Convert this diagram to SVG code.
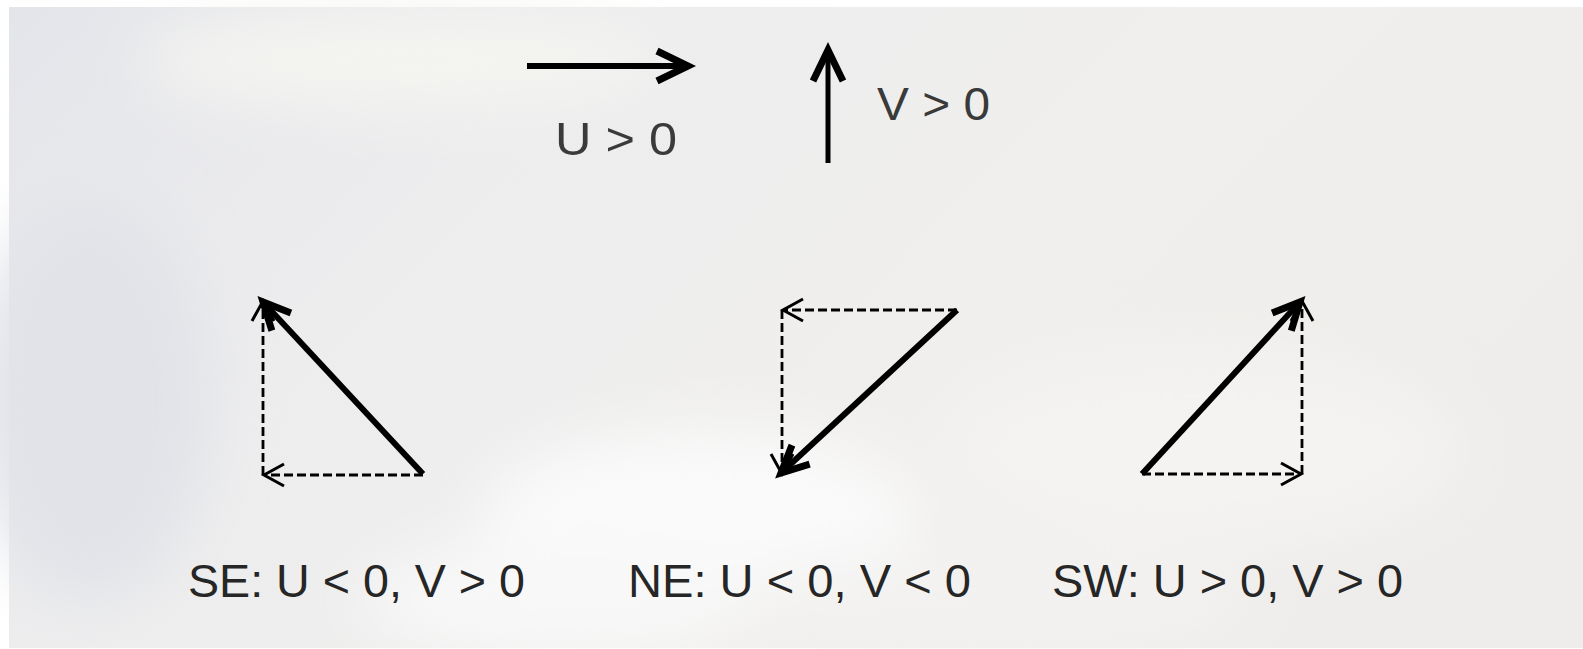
<svg xmlns="http://www.w3.org/2000/svg" width="1583" height="649" viewBox="0 0 1583 649">
<defs>
<linearGradient id="bg" x1="0" y1="0" x2="1" y2="0.4">
<stop offset="0" stop-color="#e4e5ea"/>
<stop offset="0.35" stop-color="#ededee"/>
<stop offset="0.7" stop-color="#f0efed"/>
<stop offset="1" stop-color="#efedeb"/>
</linearGradient>
<filter id="blur" x="-50%" y="-50%" width="200%" height="200%"><feGaussianBlur stdDeviation="30"/></filter>
<marker id="head" markerUnits="userSpaceOnUse" markerWidth="60" markerHeight="60" viewBox="-40 -30 60 60" refX="0" refY="0" orient="auto" overflow="visible">
<path d="M-31,-15 L0,0 L-31,15" fill="none" stroke="#000" stroke-width="7"/>
</marker>
<marker id="headS" markerUnits="userSpaceOnUse" markerWidth="60" markerHeight="60" viewBox="-40 -30 60 60" refX="0" refY="0" orient="auto" overflow="visible">
<path d="M-27,-13 L0,0 L-27,13" fill="none" stroke="#000" stroke-width="7"/>
</marker>
<marker id="dhead" markerUnits="userSpaceOnUse" markerWidth="40" markerHeight="40" viewBox="-30 -20 40 40" refX="0" refY="0" orient="auto" overflow="visible">
<path d="M-20,-11 L0,0 L-20,11" fill="none" stroke="#000" stroke-width="3"/>
</marker>
</defs>
<style>
.solid{fill:none;stroke:#000;stroke-width:6;}
.dash{fill:none;stroke:#000;stroke-width:2.8;stroke-dasharray:9 4;}
.lbl{font-family:"Liberation Sans",Arial,sans-serif;font-size:46px;fill:#3a3a3a;}
.cap{font-family:"Liberation Sans",Arial,sans-serif;font-size:47px;fill:#262626;}
</style>
<rect width="1583" height="649" fill="#ffffff"/>
<g id="background">
<rect x="9" y="7" width="1574" height="641" fill="url(#bg)"/>
<g filter="url(#blur)">
<ellipse cx="700" cy="520" rx="220" ry="90" fill="#fafafa"/>
<ellipse cx="560" cy="600" rx="200" ry="60" fill="#f8f8f8"/>
<ellipse cx="400" cy="60" rx="260" ry="50" fill="#f4f4f1"/>
<ellipse cx="1200" cy="450" rx="260" ry="100" fill="#f4f3f1"/>
<ellipse cx="90" cy="400" rx="120" ry="200" fill="#e1e3e8"/>
<ellipse cx="1000" cy="600" rx="260" ry="50" fill="#f3f2f1"/>
</g>
</g>
<g id="connectors">
<path class="solid" d="M527,66 L688,66" marker-end="url(#head)"/>
<path class="solid" d="M828,163 L828,50" marker-end="url(#head)" style="stroke-width:5"/>
<path class="dash" d="M423,475 L264,475" marker-end="url(#dhead)"/>
<path class="dash" d="M263,475 L263,301" marker-end="url(#dhead)"/>
<path class="solid" d="M423,474 L263,302" marker-end="url(#headS)"/>
<path class="dash" d="M957,310 L783,310" marker-end="url(#dhead)"/>
<path class="dash" d="M782,310 L782,474" marker-end="url(#dhead)"/>
<path class="solid" d="M957,310 L781,473" marker-end="url(#headS)"/>
<path class="dash" d="M1142,474 L1301,474" marker-end="url(#dhead)"/>
<path class="dash" d="M1302,474 L1302,301" marker-end="url(#dhead)"/>
<path class="solid" d="M1142,474 L1300,302" marker-end="url(#headS)"/>
</g>
<g id="label-u"><text class="lbl" x="555" y="155" textLength="122" lengthAdjust="spacingAndGlyphs">U &gt; 0</text></g>
<g id="label-v"><text class="lbl" x="877" y="120" textLength="113" lengthAdjust="spacingAndGlyphs">V &gt; 0</text></g>
<g id="label-se"><text class="cap" x="188" y="597" textLength="337" lengthAdjust="spacingAndGlyphs">SE: U &lt; 0, V &gt; 0</text></g>
<g id="label-ne"><text class="cap" x="628" y="597" textLength="343" lengthAdjust="spacingAndGlyphs">NE: U &lt; 0, V &lt; 0</text></g>
<g id="label-sw"><text class="cap" x="1052" y="597" textLength="351" lengthAdjust="spacingAndGlyphs">SW: U &gt; 0, V &gt; 0</text></g>
</svg>
